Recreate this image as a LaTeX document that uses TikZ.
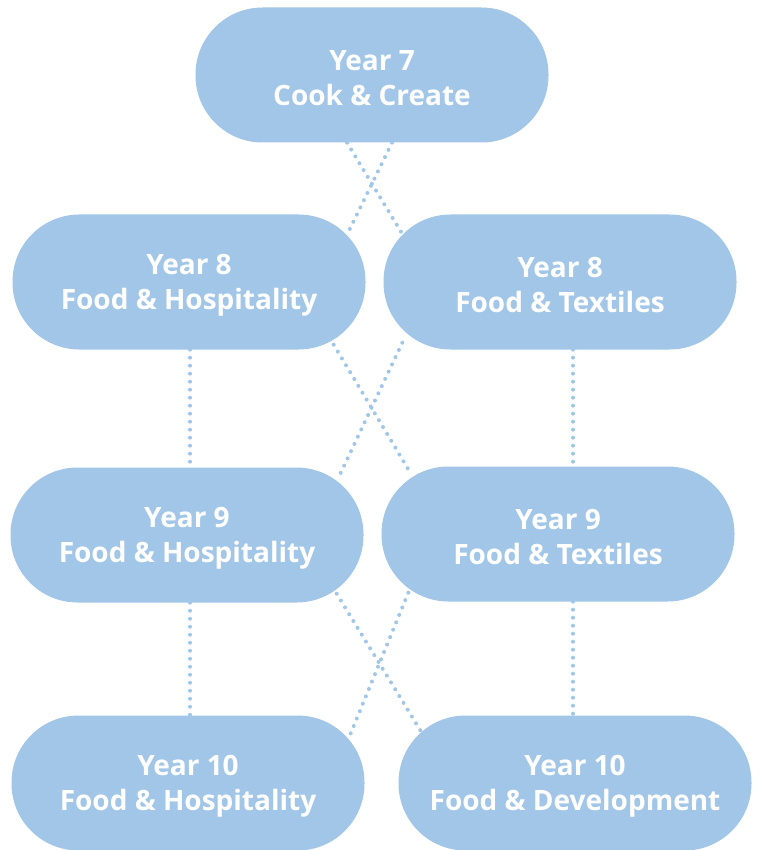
\documentclass[tikz,border=0pt]{standalone}
\usepackage{fontspec}
\setsansfont{Open Sans}
\usepackage{tikz}
\usetikzlibrary{calc}
\usetikzlibrary{positioning,backgrounds}
\definecolor{paleblue}{HTML}{A1C6E7}
\newcommand{\topgap}{\rule{0pt}{27pt}}
\tikzset{yearbox/.style={fill=paleblue, rounded corners=67pt, minimum width=353pt, minimum height=135pt,
		inner sep=0pt, text=white, align=center, font=\fontsize{28}{35}\selectfont\sffamily\bfseries}}
\tikzset{link/.style={paleblue, line width=4pt, line cap=round, dash pattern=on 0pt off 8pt}}

\begin{document}
\begin{tikzpicture}[x=1pt,y=-1pt]
				\useasboundingbox (0,0) rectangle (759,850);
				\draw (372,75) node (y7) [yearbox] {\topgap Year 7\\Cook \& Create};

				\draw (189,282) node (y8fh) [yearbox] {\topgap Year 8\\Food \& Hospitality};
				\draw (560,282) node (y8ft) [yearbox] {\topgap Year 8\\Food \& Textiles};

				\draw (187,535) node (y9fh) [yearbox] {\topgap Year 9\\Food \& Hospitality};
				\draw (558,534) node (y9ft) [yearbox] {\topgap Year 9\\Food \& Textiles};

				\draw (188,783) node (y10fh) [yearbox] {\topgap Year 10\\Food \& Hospitality};
				\draw (575,783) node (y10fd) [yearbox] {\topgap Year 10\\Food \& Development};

				\begin{scope}[on background layer]
				\draw [link] ([xshift=20pt]y7.south) -- ([xshift=-18pt,yshift=-19pt]y8fh.north east);
				\draw [link] ([xshift=-25pt]y7.south) -- ([xshift=18pt,yshift=-18pt]y8ft.north west);

				\draw [link] ([xshift=1pt]y8fh.south) -- ([xshift=3pt]y9fh.north);
				\draw [link] ([xshift=13pt]y8ft.south) -- ([xshift=15pt]y9ft.north);
				\draw [link] ([xshift=-32pt,yshift=5pt]y8fh.south east) -- ([xshift=27pt,yshift=-3pt]y9ft.north west);
				\draw [link] ([xshift=19pt,yshift=7pt]y8ft.south west) -- ([xshift=-26pt,yshift=-12pt]y9fh.north east);

				\draw [link] ([xshift=3pt]y9fh.south) -- ([xshift=2pt]y10fh.north);
				\draw [link] ([xshift=15pt]y9ft.south) -- ([xshift=-2pt]y10fd.north);
				\draw [link] ([xshift=-27pt,yshift=9pt]y9fh.south east) -- ([xshift=22pt,yshift=-15pt]y10fd.north west);
				\draw [link] ([xshift=27pt,yshift=9pt]y9ft.south west) -- ([xshift=-16pt,yshift=-23pt]y10fh.north east);
				\end{scope}
			\end{tikzpicture}
\end{document}
